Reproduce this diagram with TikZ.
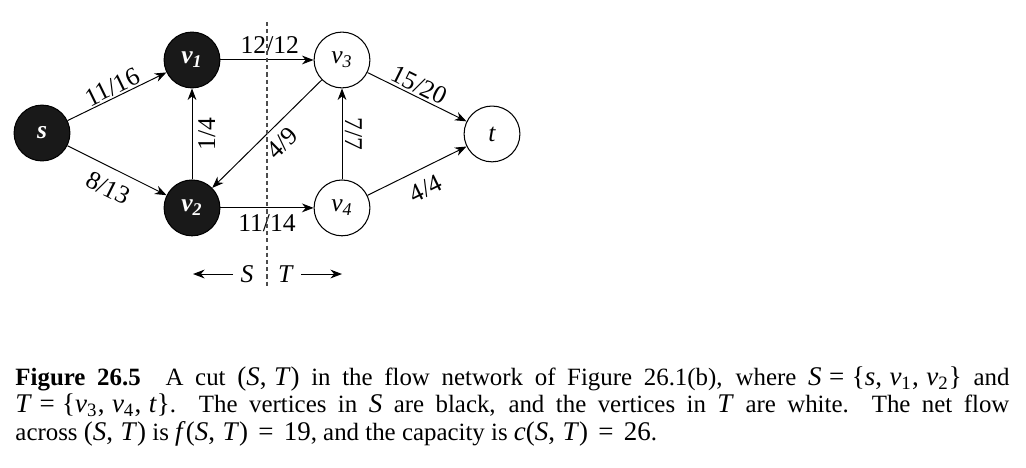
\documentclass[tikz,border=0pt]{standalone}
\usepackage{fontspec}
\setmainfont{Liberation Serif}
\usetikzlibrary{arrows, arrows.meta, positioning}
\newcommand{\mv}[1]{\textit{#1}}
\newcommand{\vsub}[1]{\textit{v}\textsubscript{#1}}
\newcommand{\mth}[1]{{\fontsize{11.6}{11.8}\selectfont #1}}
\newcommand{\pr}[2]{\mth{(\mv{#1},\;\mv{#2}\/)}}
\newcommand{\meq}{\hspace{0.38em}=\hspace{0.38em}}

\begin{document}
\begin{tikzpicture}[>={Stealth[length=5pt, width=3.8pt, inset=1.6pt]}, x=0.43pt, y=-0.43pt, on grid,
    vtx/.style={circle, draw, line width=0.45pt, minimum size=24pt, inner sep=0pt, font=\fontsize{11}{13}\selectfont\itshape},
    svtx/.style={vtx, fill=black!90, text=white, font=\fontsize{11}{13}\selectfont\bfseries\itshape},
    tvtx/.style={vtx, fill=white},
    flow/.style={->, line width=0.42pt},
    lbl/.style={inner sep=1.5pt, font=\fontsize{11}{13}\selectfont}]
    \useasboundingbox (0,0) rectangle (1026,467);
    % vertices
    \node[svtx] (s) at (42,133) {s};
    \node[svtx, above right=31.4pt and 64.5pt of s] (v1) {\vsub{1}};
    \node[svtx, below=63.6pt of v1] (v2) {\vsub{2}};
    \node[tvtx, right=64.5pt of v1] (v3) {\vsub{3}};
    \node[tvtx, right=64.5pt of v2] (v4) {\vsub{4}};
    \node[tvtx, below right=31.8pt and 64.5pt of v3] (t) {t};
    % edges
    \draw[flow] (s) -- node[lbl, sloped, above, inner sep=0.6pt] {11/16} (v1);
    \draw[flow] (s) -- node[lbl, sloped, below, inner sep=4.5pt] {8/13} (v2);
    \draw[flow] (v1) -- node[lbl, above, pos=0.53, inner sep=2.5pt] {12/12} (v3);
    \draw[flow] (v2) -- node[lbl, below, inner sep=2.5pt] {11/14} (v4);
    \draw[flow] (v2) -- node[lbl, rotate=90, below, inner sep=2.5pt] {1/4} (v1);
    \draw[flow] (v3) -- node[lbl, sloped, below, pos=0.47, inner sep=3.5pt] {4/9} (v2);
    \draw[flow] (v4) -- node[lbl, rotate=-90, above, inner sep=1pt] {7/7} (v3);
    \draw[flow] (v3) -- node[lbl, sloped, above, pos=0.47, inner sep=1pt] {15/20} (t);
    \draw[flow] (v4) -- node[lbl, sloped, below, inner sep=4.5pt] {4/4} (t);
    % the cut
    \coordinate (cuttop) at (267,22);
    \coordinate (cutbot) at (267,286);
    \draw[black!70, line width=0.45pt, dash pattern=on 1.8pt off 1.3pt] (cuttop) -- (cutbot);
    \node[inner sep=3pt, font=\fontsize{11}{13}\selectfont] (Slab) at (247,274) {\mv{S}};
    \node[inner sep=3pt, font=\fontsize{11}{13}\selectfont] (Tlab) at (286,274) {\mv{T}};
    \coordinate (Send) at (193,274);
    \coordinate (Tend) at (342,274);
    \draw[flow] (Slab) -- (Send);
    \draw[flow] (Tlab) -- (Tend);
    % caption
    \node[anchor=north west, inner sep=0pt, text width=427.4pt, align=justify,
          font=\fontsize{10.7}{11.8}\selectfont] (caption) at (15,366)
      {\textbf{Figure 26.5}\quad A cut \pr{S}{T} in the flow network of Figure 26.1(b), where \mth{\mv{S}\;=\;\{\mv{s},\;\vsub{1},\;\vsub{2}\}} and\linebreak
       \mth{\mv{T}\;=\;\{\vsub{3},\;\vsub{4},\;\mv{t}\/\}}.\ \ The vertices in \mth{\mv{S}} are black, and the vertices in \mth{\mv{T}} are white.\ \ The net flow\linebreak
       across \pr{S}{T} is \mth{\mv{f}\/\pr{S}{T}\meq 19}, and the capacity is \mth{\mv{c}\pr{S}{T}\meq 26}.};
\end{tikzpicture}
\end{document}
